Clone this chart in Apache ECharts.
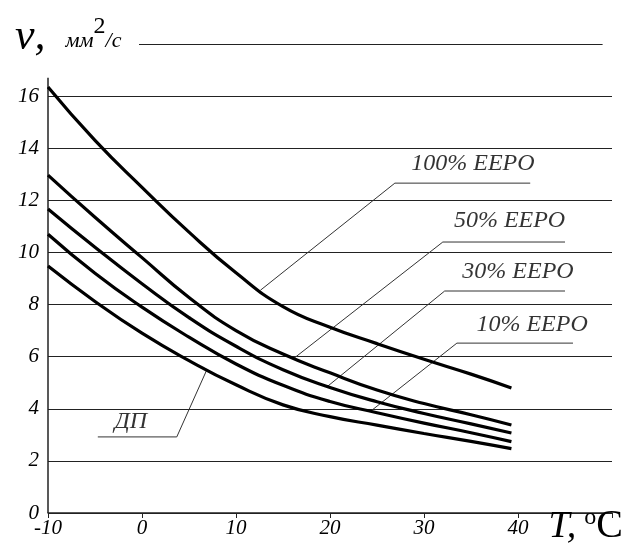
<!DOCTYPE html>
<html>
<head>
<meta charset="utf-8">
<script src="https://cdn.jsdelivr.net/npm/echarts@6/dist/echarts.min.js"></script>
<style>
  html, body { margin: 0; padding: 0; background: #fff; }
  #chart { width: 632px; height: 547px; }
</style>
</head>
<body>
<div id="chart"></div>
<script>
// temperature, deg C
const temps = [-10, -5, 0, 5, 10, 15, 20, 25, 30, 35, 39.3]
// kinematic viscosity, mm2/s
const eepo100 = [16.35, 14.3, 12.5, 10.78, 9.22, 7.92, 7.13, 6.5, 5.9, 5.33, 4.8]
const eepo50 = [12.97, 11.35, 9.8, 8.27, 7.0, 6.1, 5.38, 4.72, 4.2, 3.77, 3.38]
const eepo30 = [11.67, 10.2, 8.8, 7.5, 6.4, 5.5, 4.82, 4.27, 3.82, 3.42, 3.07]
const eepo10 = [10.7, 9.2, 7.9, 6.75, 5.72, 4.9, 4.28, 3.85, 3.45, 3.08, 2.74]
const dp = [9.48, 8.12, 6.9, 5.85, 4.92, 4.15, 3.7, 3.37, 3.05, 2.75, 2.47]

const xTicks = [-10, 0, 10, 20, 30, 40]
const yTicks = [0, 2, 4, 6, 8, 10, 12, 14, 16]

// callouts: name, point on curve, elbow, end of underline, text centre
const calloutNames = ['100% EEPO', '50% EEPO', '30% EEPO', '10% EEPO', 'ДП']
const calloutCurve = [[12.6, 8.55], [16.1, 5.92], [19.7, 4.85], [24.3, 3.9], [6.9, 5.5]]
const calloutElbow = [[26.9, 12.66], [32.0, 10.4], [32.2, 8.52], [33.5, 6.52], [3.7, 2.92]]
const calloutEnd = [[41.3, 12.66], [45, 10.4], [45, 8.52], [45.85, 6.52], [-4.7, 2.92]]
const calloutText = [[35.2, 13.42], [39.1, 11.2], [40.0, 9.25], [41.5, 7.22], [-1.2, 3.52]]

const serif = '"Liberation Serif", "DejaVu Serif", serif'

const zip = (vals) => temps.map((t, i) => [t, vals[i]])

const curve = (name, vals) => ({
  name,
  type: 'line',
  smooth: 0.5,
  showSymbol: false,
  silent: true,
  lineStyle: { color: '#000', width: 3.2 },
  data: zip(vals),
  z: 5
})

const leaders = calloutNames.map((n, i) => ({
  type: 'line',
  showSymbol: false,
  silent: true,
  lineStyle: { color: '#333', width: 1 },
  data: [calloutCurve[i], calloutElbow[i], calloutEnd[i]],
  z: 3
}))

const chart = echarts.init(document.getElementById('chart'))

const txt = (size, italic, extra) => Object.assign({
  fontFamily: serif,
  fontStyle: italic ? 'italic' : 'normal',
  fontWeight: 'normal',
  fontSize: size,
  color: '#000'
}, extra)

chart.setOption({
  backgroundColor: '#fff',
  animation: false,
  title: [
    {
      left: 10,
      top: 10,
      text: '{v|ν,}{u|мм}{s|2}{u|/с}',
      textStyle: {
        rich: {
          v: txt(44, true, { verticalAlign: 'bottom', padding: [0, 20, 0, 0] }),
          u: txt(22, true, { verticalAlign: 'bottom', padding: [0, 0, 7, 0] }),
          s: txt(24, false, { verticalAlign: 'top' })
        }
      }
    },
    {
      right: 4,
      bottom: -4,
      text: '{t|T,}{o|o}{c|C}',
      textStyle: {
        rich: {
          t: txt(38, true, { verticalAlign: 'bottom', padding: [0, 8, 0, 0] }),
          o: txt(24, false, { verticalAlign: 'top' }),
          c: txt(40, false, { verticalAlign: 'bottom' })
        }
      }
    }
  ],
  grid: { left: 48, right: 20, top: 44, bottom: 34 },
  xAxis: {
    type: 'value',
    min: -10,
    max: 50,
    interval: 10,
    axisLine: { show: true, lineStyle: { color: '#222', width: 1.5 } },
    axisTick: { show: true, length: 5, lineStyle: { color: '#222' } },
    axisLabel: txt(21, true, {
      margin: 5,
      formatter: (v) => (xTicks.includes(v) ? String(v) : '')
    }),
    splitLine: { show: false }
  },
  yAxis: {
    type: 'value',
    min: 0,
    max: 18,
    interval: 2,
    axisLine: { show: false },
    axisTick: { show: true, length: 3, lineStyle: { color: '#222' } },
    axisLabel: txt(21, true, {
      margin: 9,
      formatter: (v) => (yTicks.includes(v) ? String(v) : '')
    }),
    splitLine: { show: true, showMaxLine: false, lineStyle: { color: '#222', width: 1 } }
  },
  series: [
    curve('100% EEPO', eepo100),
    curve('50% EEPO', eepo50),
    curve('30% EEPO', eepo30),
    curve('10% EEPO', eepo10),
    curve('ДП', dp),
    ...leaders,
    {
      type: 'scatter',
      silent: true,
      symbolSize: 0,
      data: calloutText.map((p, i) => ({ value: p, name: calloutNames[i] })),
      label: txt(24, true, { show: true, position: 'inside', formatter: '{b}' }),
      // y axis line and the top rule beside the unit label
      markLine: {
        silent: true,
        symbol: 'none',
        label: { show: false },
        lineStyle: { color: '#222', type: 'solid', width: 1.5 },
        data: [
          [{ coord: [-10, 0] }, { coord: [-10, 16.7] }],
          [{ coord: [0, 18], lineStyle: { width: 1 } }, { coord: [49, 18] }]
        ]
      }
    }
  ]
})

window.addEventListener('resize', () => chart.resize())
</script>
</body>
</html>
